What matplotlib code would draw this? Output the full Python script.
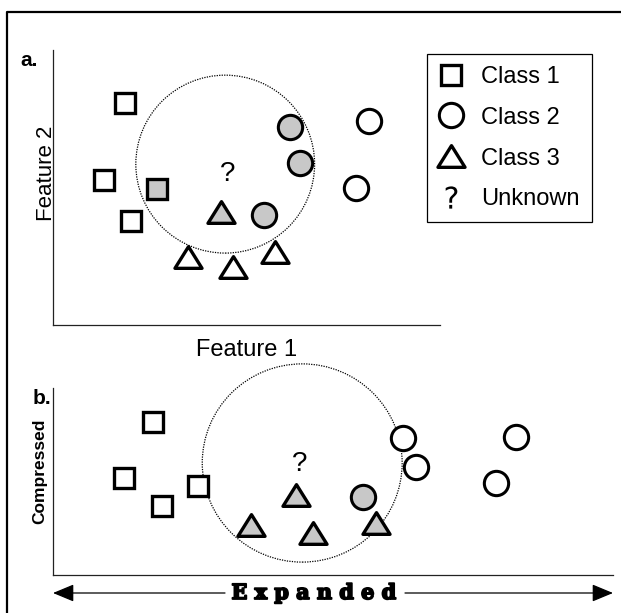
import numpy as np
import matplotlib
matplotlib.use('Agg')
import matplotlib.pyplot as plt
import matplotlib.patheffects as pe
from matplotlib.patches import Ellipse
from matplotlib.lines import Line2D
from matplotlib.path import Path

plt.rcParams['font.family'] = ['Liberation Sans', 'DejaVu Sans']

# panel a: feature space
a_sq_x = [1.86, 1.32, 2.02]
a_sq_y = [8.07, 5.27, 3.78]
a_sq_nn_x = [2.69]
a_sq_nn_y = [4.95]
a_ci_x = [8.17, 7.83]
a_ci_y = [7.42, 4.98]
a_ci_nn_x = [6.12, 6.38, 5.45]
a_ci_nn_y = [7.20, 5.89, 4.00]
a_tr_x = [3.49, 4.65, 5.74]
a_tr_y = [2.47, 2.11, 2.65]
a_tr_nn_x = [4.34]
a_tr_nn_y = [4.11]
a_unknown = (4.50, 5.50)
a_hood = (4.45, 5.85, 4.62, 6.47)   # centre x, centre y, width, height

# panel b: expanded / compressed space
b_sq_x = [1.79, 1.27, 1.95, 2.59]
b_sq_y = [8.18, 5.19, 3.69, 4.76]
b_tr_nn_x = [3.54, 4.34, 4.64, 5.77]
b_tr_nn_y = [2.67, 4.28, 2.25, 2.78]
b_ci_nn_x = [5.54]
b_ci_nn_y = [4.17]
b_ci_x = [6.25, 6.48, 8.27, 7.91]
b_ci_y = [7.33, 5.78, 7.38, 4.92]
b_unknown = (4.41, 5.95)
b_hood = (4.45, 5.99, 3.57, 10.6)

legend_labels = ['Class 1', 'Class 2', 'Class 3', 'Unknown']

grey = '#c8c8c8'
tri = Path([(-1, -0.8), (1, -0.8), (0, 0.8), (-1, -0.8)], closed=True)
sq_kw = dict(marker='s', ms=14, mew=2.4, mec='black', ls='none')
ci_kw = dict(marker='o', ms=17.5, mew=2.2, mec='black', ls='none')
tr_kw = dict(marker=tri, ms=19.5, mew=2.4, mec='black', ls='none')

W, H = 621, 613
fig = plt.figure(figsize=(W / 100, H / 100), dpi=100)

ax_a = fig.add_axes([53 / W, 1 - 325 / H, 387 / W, 275 / H])
ax_b = fig.add_axes([53 / W, 1 - 575 / H, 560 / W, 187 / H])

for ax in (ax_a, ax_b):
    ax.set_xlim(0, 10)
    ax.set_ylim(0, 10)
    ax.set_xticks([])
    ax.set_yticks([])
    for s in ('top', 'right'):
        ax.spines[s].set_visible(False)
    for s in ('left', 'bottom'):
        ax.spines[s].set_linewidth(0.9)
        ax.spines[s].set_color('#222222')

# --- panel a
cx, cy, w, h = a_hood
ax_a.add_patch(Ellipse((cx, cy), w, h, fill=False, ls=(0, (1, 1)), lw=0.9,
                       ec='black', clip_on=False, zorder=1))
ax_a.plot(a_sq_x, a_sq_y, mfc='white', **sq_kw)
ax_a.plot(a_sq_nn_x, a_sq_nn_y, mfc=grey, **sq_kw)
ax_a.plot(a_ci_x, a_ci_y, mfc='white', **ci_kw)
ax_a.plot(a_ci_nn_x, a_ci_nn_y, mfc=grey, **ci_kw)
ax_a.plot(a_tr_x, a_tr_y, mfc='white', clip_on=False, **tr_kw)
ax_a.plot(a_tr_nn_x, a_tr_nn_y, mfc=grey, **tr_kw)
ax_a.text(*a_unknown, '?', fontsize=20, ha='center', va='center')

handles = [
    Line2D([], [], mfc='white', **sq_kw),
    Line2D([], [], mfc='white', **ci_kw),
    Line2D([], [], mfc='white', **tr_kw),
    Line2D([], [], marker='$?$', ms=16, mew=0, color='black', ls='none'),
]
leg = ax_a.legend(handles, legend_labels, loc='upper left',
                  bbox_to_anchor=(427 / W, 1 - 54 / H), bbox_transform=fig.transFigure,
                  fontsize=17, frameon=True, fancybox=False, framealpha=1,
                  edgecolor='black', borderaxespad=0, borderpad=0.5,
                  handlelength=1.0, handletextpad=0.8, labelspacing=0.8)
leg.get_frame().set_linewidth(0.9)

ax_a.set_xlabel('Feature 1', fontsize=17, labelpad=10)
fig.text(46 / W, 1 - 173 / H, 'Feature 2', rotation=90, fontsize=16,
         ha='center', va='center')
fig.text(29 / W, 1 - 61 / H, 'a.', fontsize=15, fontweight='bold',
         ha='center', va='center')

# --- panel b
cx, cy, w, h = b_hood
ax_b.add_patch(Ellipse((cx, cy), w, h, fill=False, ls=(0, (1, 1)), lw=0.9,
                       ec='black', clip_on=False, zorder=1))
ax_b.plot(b_sq_x, b_sq_y, mfc='white', **sq_kw)
ax_b.plot(b_tr_nn_x, b_tr_nn_y, mfc=grey, **tr_kw)
ax_b.plot(b_ci_nn_x, b_ci_nn_y, mfc=grey, **ci_kw)
ax_b.plot(b_ci_x, b_ci_y, mfc='white', **ci_kw)
ax_b.text(*b_unknown, '?', fontsize=20, ha='center', va='center')

fig.text(40 / W, 1 - 471 / H, 'Compressed', rotation=90, fontsize=12.5,
         fontweight='bold', ha='center', va='center')
fig.text(42 / W, 1 - 398 / H, 'b.', fontsize=15, fontweight='bold',
         ha='center', va='center')

# expanded arrow under panel b
ya = -18 / 187
ap = dict(arrowstyle='-|>,head_length=0.65,head_width=0.27', color='black',
          lw=0.9, shrinkA=0, shrinkB=0, mutation_scale=20)
ax_b.annotate('', xy=(0, ya), xytext=((225 - 53) / 560, ya),
              xycoords='axes fraction', arrowprops=ap)
ax_b.annotate('', xy=(1, ya), xytext=((405 - 53) / 560, ya),
              xycoords='axes fraction', arrowprops=ap)
ax_b.text((314 - 53) / 560, ya, 'E x p a n d e d', transform=ax_b.transAxes,
          family=['DejaVu Serif'], fontweight='bold', fontsize=15,
          ha='center', va='center',
          path_effects=[pe.withStroke(linewidth=1.3, foreground='black')])

# outer frame (top and left edges)
fig.add_artist(Line2D([7 / W, 7 / W, 1], [0, 1 - 12 / H, 1 - 12 / H],
                      color='black', lw=1.6, transform=fig.transFigure))

fig.savefig('out.png', dpi=100)
